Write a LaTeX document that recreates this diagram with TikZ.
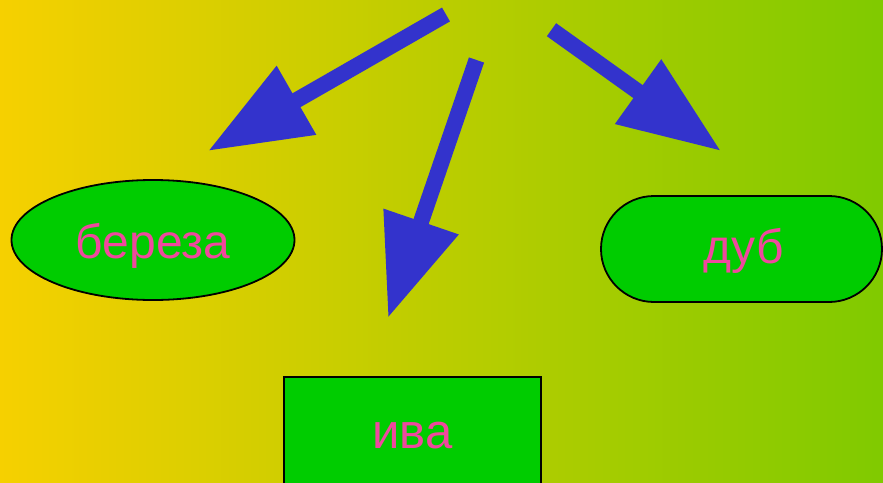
\documentclass[tikz,border=0pt]{standalone}
\usepackage{fontspec}
\setmainfont{Liberation Sans}
\usetikzlibrary{shapes.geometric,arrows.meta}
\definecolor{bgleft}{RGB}{246,208,0}
\definecolor{bgright}{RGB}{128,202,0}
\definecolor{boxgreen}{RGB}{0,204,0}
\definecolor{txtpink}{RGB}{240,72,158}
\definecolor{arrowblue}{RGB}{51,51,204}
\tikzset{
  shapebox/.style={draw=black, line width=1.8pt, fill=boxgreen, text=txtpink, inner sep=0pt, text depth=0pt, font=\fontsize{48}{52}\selectfont},
  bigarrow/.style={arrowblue, line width=16pt, -{Triangle[width=75pt,length=102pt]}}
}
\begin{document}
\begin{tikzpicture}[x=1pt,y=-1pt]
\useasboundingbox (0,0) rectangle (883,482);
\clip (0,0) rectangle (883,482);
\shade[left color=bgleft, right color=bgright] (0,0) rectangle (883,482);
\node[shapebox, ellipse, minimum width=283pt, minimum height=120pt, text height=36.6pt] (bereza) at (153,240) {береза};
\node[shapebox, rectangle, rounded corners=53pt, minimum width=281pt, minimum height=106pt, text height=28.6pt] (dub) at (741.5,249) {\hspace*{5pt}дуб};
\node[shapebox, rectangle, minimum width=257pt, minimum height=108pt, text height=34.6pt, font=\fontsize{49}{52}\selectfont] (iva) at (412.5,431) {ива};
\coordinate (s1) at (446,14.5);
\coordinate (t1) at (208,151);
\coordinate (s2) at (476.5,60);
\coordinate (t2) at (388,318);
\coordinate (s3) at (551.5,29.7);
\coordinate (t3) at (721,151);
\draw[bigarrow] (s1) -- (t1);
\draw[bigarrow] (s2) -- (t2);
\draw[bigarrow] (s3) -- (t3);
\end{tikzpicture}
\end{document}
